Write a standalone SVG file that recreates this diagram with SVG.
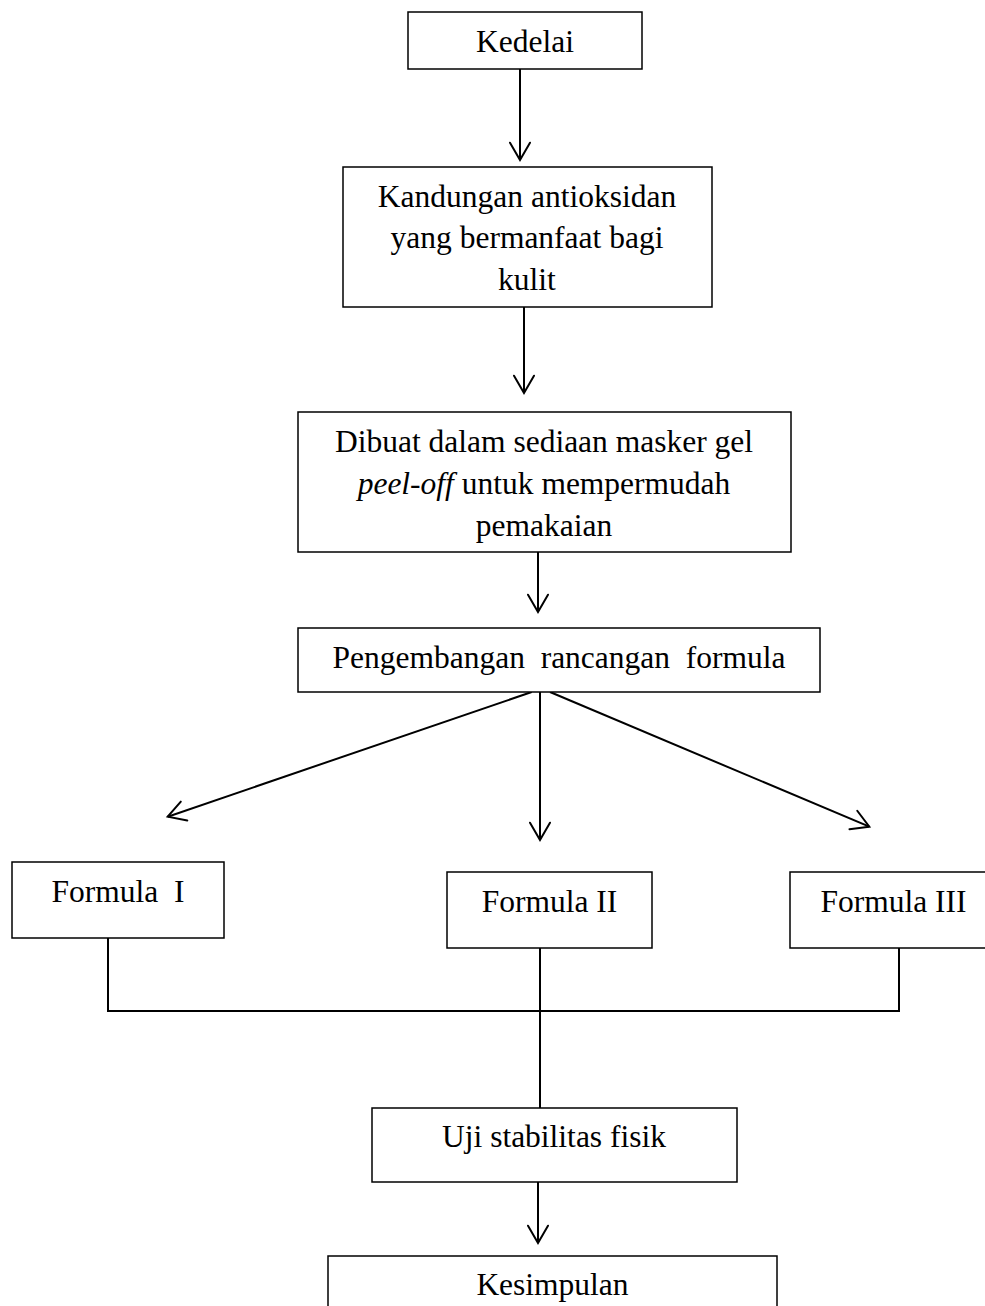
<svg xmlns="http://www.w3.org/2000/svg" width="985" height="1306" viewBox="0 0 985 1306">
<style>
.box{fill:#fff;stroke:#000;stroke-width:1.5}
.t{font-family:"Liberation Serif","Times New Roman",serif;font-size:31.5px;fill:#000;text-anchor:middle;white-space:pre}
.ln{stroke:#000;stroke-width:2;fill:none}
.ar{stroke:#000;stroke-width:2;fill:none;marker-end:url(#ah)}
</style>
<defs>
<marker id="ah" markerUnits="userSpaceOnUse" orient="auto" refX="0" refY="0" markerWidth="30" markerHeight="30" overflow="visible">
<path d="M-17.3,-10 L0,0 L-17.3,10" fill="none" stroke="#000" stroke-width="2" stroke-linecap="round" stroke-linejoin="miter"/>
</marker>
</defs>
<rect width="985" height="1306" fill="#fff"/>
<g id="connectors">
<line class="ar" x1="520" y1="69" x2="520" y2="160"/>
<line class="ar" x1="524" y1="307" x2="524" y2="393"/>
<line class="ar" x1="538" y1="552" x2="538" y2="612"/>
<line class="ar" x1="531.7" y1="692" x2="167.7" y2="816.7"/>
<line class="ar" x1="540" y1="692" x2="540" y2="840"/>
<line class="ar" x1="550" y1="692" x2="869.3" y2="826.7"/>
<polyline class="ln" points="108,938 108,1011 899,1011 899,948"/>
<line class="ln" x1="540" y1="948" x2="540" y2="1108"/>
<line class="ar" x1="538" y1="1182" x2="538" y2="1243"/>
</g>
<g id="kedelai">
<rect class="box" x="408" y="12" width="234" height="57"/>
<text class="t" x="525" y="52">Kedelai</text>
</g>
<g id="kandungan">
<rect class="box" x="343" y="167" width="369" height="140"/>
<text class="t" x="527" y="207">Kandungan antioksidan</text>
<text class="t" x="527" y="248">yang bermanfaat bagi</text>
<text class="t" x="527" y="290">kulit</text>
</g>
<g id="dibuat">
<rect class="box" x="298" y="412" width="493" height="140"/>
<text class="t" x="544" y="452">Dibuat dalam sediaan masker gel</text>
<text class="t" x="544" y="494"><tspan font-style="italic">peel-off</tspan> untuk mempermudah</text>
<text class="t" x="544" y="536">pemakaian</text>
</g>
<g id="pengembangan">
<rect class="box" x="298" y="628" width="522" height="64"/>
<text class="t" x="559" y="668">Pengembangan  rancangan  formula</text>
</g>
<g id="formula1">
<rect class="box" x="12" y="862" width="212" height="76"/>
<text class="t" x="118" y="902">Formula  I</text>
</g>
<g id="formula2">
<rect class="box" x="447" y="872" width="205" height="76"/>
<text class="t" x="549.5" y="912">Formula II</text>
</g>
<g id="formula3">
<rect class="box" x="790" y="872" width="207" height="76"/>
<text class="t" x="893.5" y="912">Formula III</text>
</g>
<g id="uji">
<rect class="box" x="372" y="1108" width="365" height="74"/>
<text class="t" x="554" y="1147">Uji stabilitas fisik</text>
</g>
<g id="kesimpulan">
<rect class="box" x="328" y="1256" width="449" height="70"/>
<text class="t" x="552.5" y="1295">Kesimpulan</text>
</g>
</svg>
